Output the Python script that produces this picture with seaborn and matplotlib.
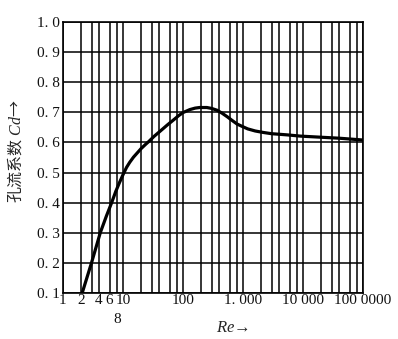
import matplotlib
matplotlib.use("Agg")
import matplotlib.pyplot as plt
import matplotlib.transforms as mtransforms
import seaborn as sns
import pandas as pd
import numpy as np

# Orifice discharge coefficient vs Reynolds number
re_values = [2.1, 3.0, 4.2, 5.3, 6.5, 7.6, 8.7, 10.0, 11.5, 13, 15, 17.5, 20,
             24, 27, 33, 41, 55, 70, 85, 100, 130, 160, 190, 250, 300, 370,
             450, 550, 650, 800, 1000, 1200, 1600, 2200, 3000, 5500, 9000,
             17000, 40000, 100000]
cd_values = [0.10, 0.20, 0.30, 0.355, 0.40, 0.437, 0.465, 0.492, 0.517, 0.534,
             0.551, 0.566, 0.579, 0.594, 0.603, 0.620, 0.636, 0.658, 0.675,
             0.689, 0.699, 0.709, 0.714, 0.716, 0.716, 0.713, 0.707, 0.697,
             0.685, 0.674, 0.661, 0.652, 0.645, 0.638, 0.633, 0.629, 0.625,
             0.621, 0.618, 0.614, 0.608]

x_tick_values = [1, 2, 4, 6, 10, 100, 1000, 10000, 100000]
x_tick_labels = ["1", "2", "4", "6", "10", "100", "1. 000", "10 000", "100 0000"]
x_low_label = ("8", 8)  # label set one line lower, below the crowded 6 / 10
y_tick_values = [0.1, 0.2, 0.3, 0.4, 0.5, 0.6, 0.7, 0.8, 0.9, 1.0]
y_tick_labels = ["0. 1", "0. 2", "0. 3", "0. 4", "0. 5", "0. 6", "0. 7", "0. 8", "0. 9", "1. 0"]

sns.set_style("white")
plt.rcParams["font.family"] = ["Liberation Serif", "DejaVu Serif"]
plt.rcParams["mathtext.fontset"] = "custom"
plt.rcParams["mathtext.it"] = "Liberation Serif:italic"
plt.rcParams["mathtext.rm"] = "Liberation Serif"

df = pd.DataFrame({"Re": re_values, "Cd": cd_values})

fig = plt.figure(figsize=(3.98, 3.39), dpi=100)
ax = fig.add_axes([0.158, 0.136, 0.754, 0.799])

ax.set_xscale("log")
ax.set_xlim(1, 100000)
ax.set_ylim(0.1, 1.0)

# log-paper grid: lines at 1, 2, 3, 4, 6, 8 of every decade
grid_x = [m * 10 ** d for d in range(5) for m in (1, 2, 3, 4, 6, 8)] + [100000]
for gx in grid_x:
    ax.axvline(gx, color="black", lw=1.1, zorder=1)
for gy in np.arange(0.1, 1.01, 0.1):
    ax.axhline(gy, color="black", lw=1.1, zorder=1)

sns.lineplot(data=df, x="Re", y="Cd", ax=ax, color="black", lw=2.3, zorder=3)
for line in ax.get_lines():
    line.set_solid_joinstyle("round")

ax.set_xticks(x_tick_values)
ax.set_xticklabels(x_tick_labels)
ax.xaxis.set_minor_locator(matplotlib.ticker.NullLocator())
ax.set_yticks(y_tick_values)
ax.set_yticklabels(y_tick_labels)
ax.tick_params(axis="both", length=0, labelsize=11, colors="#111111")
ax.tick_params(axis="x", pad=1)
ax.tick_params(axis="y", pad=2)

trans = mtransforms.blended_transform_factory(ax.transData, ax.transAxes)
ax.text(x_low_label[1], -0.075, x_low_label[0], transform=trans, ha="center",
        va="top", fontsize=11, color="#111111")

for s in ax.spines.values():
    s.set_color("black")
    s.set_linewidth(1.2)

ax.set_xlabel("")
ax.set_ylabel("")
fig.text(0.585, 0.033, "$Re$→", fontsize=12, ha="center", va="center",
         family=["Liberation Serif", "Noto Sans CJK SC"])
fig.text(0.038, 0.555, "孔流系数 $Cd$→", fontsize=11.5, ha="center", va="center",
         rotation=90, family=["Noto Sans CJK SC", "DejaVu Sans"])

fig.savefig("out.png", dpi=100)
